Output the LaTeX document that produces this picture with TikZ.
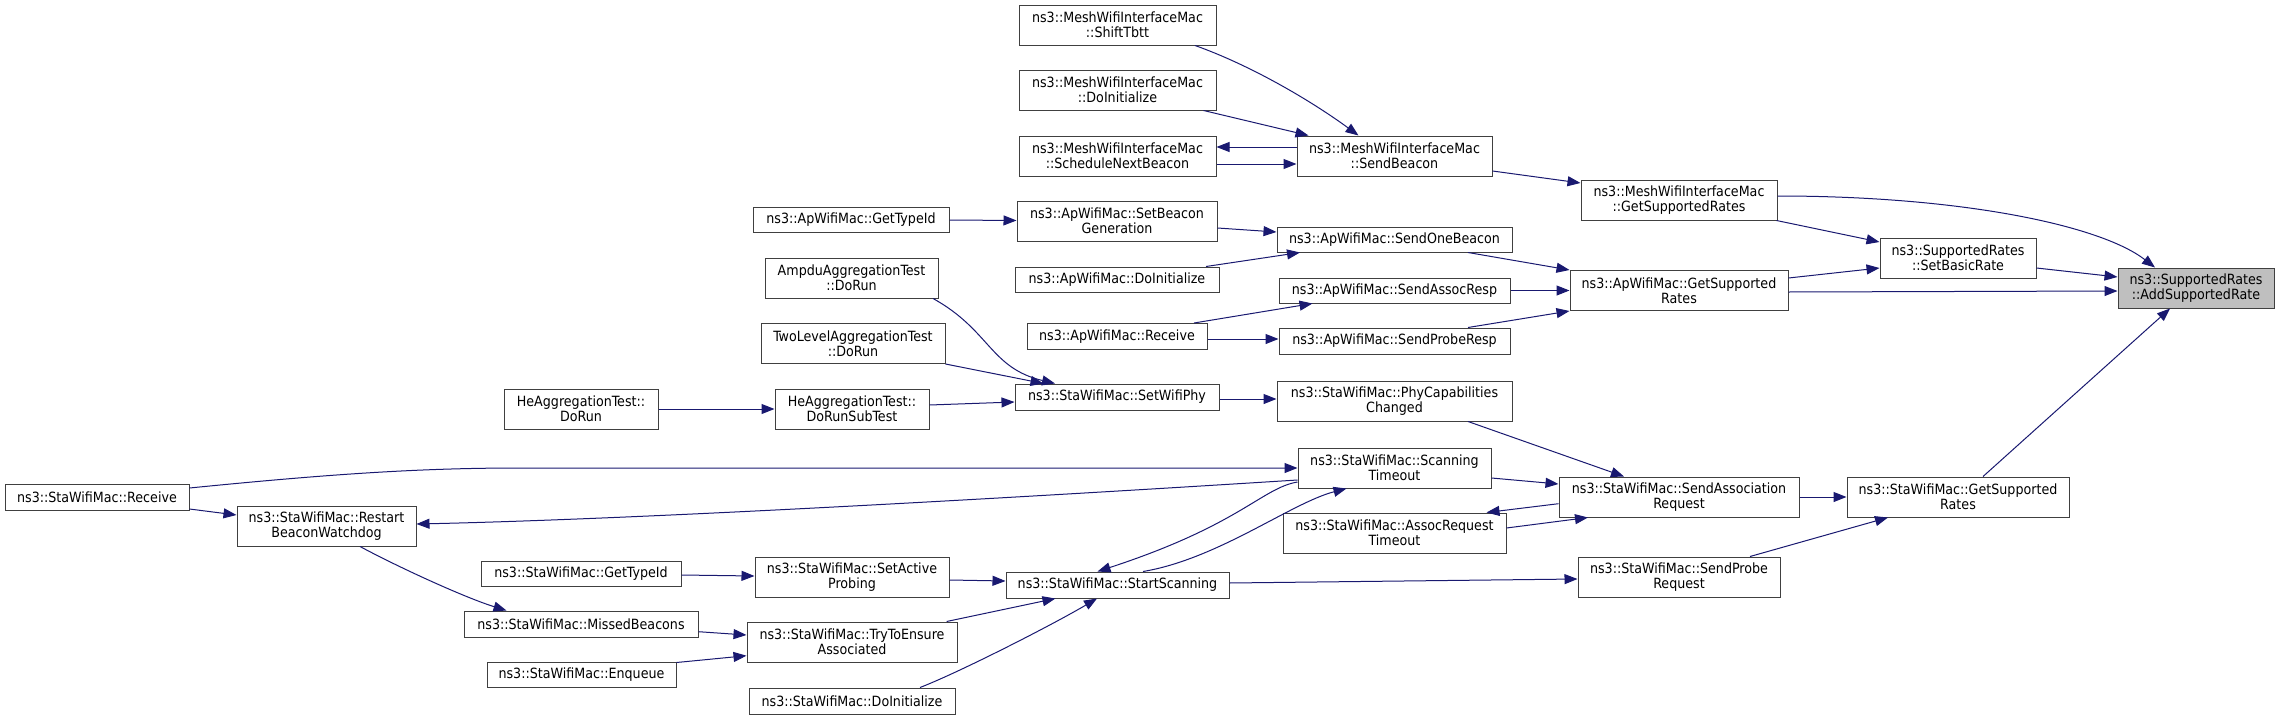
\documentclass[tikz,border=0pt]{standalone}
\usepackage{fontspec}
\setmainfont{DejaVu Sans Condensed}
\usetikzlibrary{arrows.meta}
\definecolor{edgeblue}{HTML}{191970}
\definecolor{boxline}{HTML}{404040}
\definecolor{hilite}{HTML}{BFBFBF}
\tikzset{
  box/.style={draw=boxline, line width=1pt, fill=white, rectangle, inner sep=0pt, align=center, font=\fontsize{14.1}{15}\selectfont},
  sz/.style 2 args={minimum width=#1pt, minimum height=#2pt},
  e/.style={draw=edgeblue, line width=1pt, -{Triangle[length=13pt,width=10pt]}, color=edgeblue}
}
\begin{document}
\begin{tikzpicture}[x=1pt,y=-1pt]
\useasboundingbox (0,0) rectangle (2283,720);
% rightmost
\node[box, sz={156}{40}, fill=hilite] (A) at (2196,288) {ns3::SupportedRates\\::AddSupportedRate};
\node[box, sz={196}{40}] (MGSR) at (1679,200) {ns3::MeshWifiInterfaceMac\\::GetSupportedRates};
\node[box, sz={156}{40}] (SBR) at (1958,258) {ns3::SupportedRates\\::SetBasicRate};
\node[box, sz={218}{40}] (AGSR) at (1679,290.5) {ns3::ApWifiMac::GetSupported\\Rates};
\node[box, sz={222}{40}] (SGSR) at (1958,497) {ns3::StaWifiMac::GetSupported\\Rates};
\node[box, sz={240}{40}] (SAR) at (1679,497) {ns3::StaWifiMac::SendAssociation\\Request};
\node[box, sz={202}{40}] (SPR) at (1679,577) {ns3::StaWifiMac::SendProbe\\Request};
% rank 1394
\node[box, sz={195}{40}] (SB) at (1394.5,156) {ns3::MeshWifiInterfaceMac\\::SendBeacon};
\node[box, sz={235}{25}] (SOB) at (1394.5,239.5) {ns3::ApWifiMac::SendOneBeacon};
\node[box, sz={231}{25}] (SAResp) at (1394.5,290.5) {ns3::ApWifiMac::SendAssocResp};
\node[box, sz={231}{26}] (SPResp) at (1394.5,341) {ns3::ApWifiMac::SendProbeResp};
\node[box, sz={235}{40}] (PCC) at (1394.5,401) {ns3::StaWifiMac::PhyCapabilities\\Changed};
\node[box, sz={193}{40}] (ST) at (1394.5,468) {ns3::StaWifiMac::Scanning\\Timeout};
\node[box, sz={223}{40}] (ART) at (1394.5,533) {ns3::StaWifiMac::AssocRequest\\Timeout};
% rank 1117
\node[box, sz={197}{40}] (STB) at (1117.5,25) {ns3::MeshWifiInterfaceMac\\::ShiftTbtt};
\node[box, sz={197}{40}] (MDI) at (1117.5,90) {ns3::MeshWifiInterfaceMac\\::DoInitialize};
\node[box, sz={197}{40}] (SNB) at (1117.5,156) {ns3::MeshWifiInterfaceMac\\::ScheduleNextBeacon};
\node[box, sz={200}{40}] (SBG) at (1117,221) {ns3::ApWifiMac::SetBeacon\\Generation};
\node[box, sz={204}{25}] (ADI) at (1117,279.5) {ns3::ApWifiMac::DoInitialize};
\node[box, sz={180}{26}] (AR) at (1117,336.5) {ns3::ApWifiMac::Receive};
\node[box, sz={204}{26}] (SWP) at (1117,397) {ns3::StaWifiMac::SetWifiPhy};
\node[box, sz={223}{26}] (SS) at (1117.5,585) {ns3::StaWifiMac::StartScanning};
% rank 852
\node[box, sz={196}{25}] (AGT) at (851,219.5) {ns3::ApWifiMac::GetTypeId};
\node[box, sz={173}{40}] (AMP) at (851.5,278) {AmpduAggregationTest\\::DoRun};
\node[box, sz={184}{40}] (TLA) at (853,343.5) {TwoLevelAggregationTest\\::DoRun};
\node[box, sz={154}{40}] (DRST) at (852,409) {HeAggregationTest::\\DoRunSubTest};
\node[box, sz={194}{40}] (SAP) at (852,577) {ns3::StaWifiMac::SetActive\\Probing};
\node[box, sz={210}{40}] (TTEA) at (852,642) {ns3::StaWifiMac::TryToEnsure\\Associated};
\node[box, sz={206}{26}] (SDI) at (852,701) {ns3::StaWifiMac::DoInitialize};
% rank 581
\node[box, sz={154}{40}] (HEDR) at (581,409) {HeAggregationTest::\\DoRun};
\node[box, sz={200}{25}] (SGT) at (581,573.5) {ns3::StaWifiMac::GetTypeId};
\node[box, sz={234}{26}] (MB) at (581,624) {ns3::StaWifiMac::MissedBeacons};
\node[box, sz={189}{25}] (ENQ) at (581.5,674.5) {ns3::StaWifiMac::Enqueue};
% rank 327, 97
\node[box, sz={179}{40}] (RBW) at (326.5,526) {ns3::StaWifiMac::Restart\\BeaconWatchdog};
\node[box, sz={184}{26}] (SR) at (97,497) {ns3::StaWifiMac::Receive};

% edges into AddSupportedRate
\draw[e] ([yshift=4pt]MGSR.east) .. controls (1960,196) and (2100,225) .. ([xshift=-41pt]A.north);
\draw[e] ([yshift=-10pt]SBR.east) -- ([yshift=11pt]A.west);
\draw[e] ([yshift=-1.5pt]AGSR.east) -- ([yshift=-3pt]A.west);
\draw[e] ([xshift=25pt]SGSR.north) -- ([xshift=-26pt]A.south);
% into SetBasicRate
\draw[e] ([xshift=-1pt]MGSR.south east) -- ([yshift=16pt]SBR.west);
\draw[e] ([yshift=12.5pt]AGSR.east) -- ([yshift=-10pt]SBR.west);
% into GetSupportedRates
\draw[e] ([yshift=-15pt]SB.east) -- ([yshift=17pt]MGSR.west);
\draw[e] ([xshift=73.5pt]SOB.south) -- (AGSR.north west);
\draw[e] (SAResp.east) -- (AGSR.west);
\draw[e] ([xshift=73.5pt]SPResp.north) -- (AGSR.south west);
% into SendBeacon
\draw[e] ([xshift=77.5pt]STB.south) .. controls (1250,65) and (1310,100) .. ([xshift=-36pt]SB.north);
\draw[e] ([xshift=86pt]MDI.south) -- ([xshift=-86pt]SB.north);
\draw[e] ([yshift=9pt]SB.west) -- ([yshift=9pt]SNB.east);
\draw[e] ([yshift=-8pt]SNB.east) -- ([yshift=-8pt]SB.west);
% into SendOneBeacon etc
\draw[e] ([yshift=-0.5pt]AGT.east) -- ([yshift=0.5pt]SBG.west);
\draw[e] ([yshift=-7pt]SBG.east) -- ([yshift=7.5pt]SOB.west);
\draw[e] ([xshift=89pt]ADI.north) -- ([xshift=-94.5pt]SOB.south);
\draw[e] ([xshift=77pt]AR.north) -- ([xshift=-82pt]SAResp.south);
\draw[e] ([yshift=-2.5pt]AR.east) -- ([yshift=2pt]SPResp.west);
% into SetWifiPhy
\draw[e] ([xshift=81.5pt]AMP.south) .. controls (990,330) and (990,368) .. ([xshift=-62pt]SWP.north);
\draw[e] (TLA.south east) -- ([xshift=-73.5pt]SWP.north);
\draw[e] (HEDR.east) -- (DRST.west);
\draw[e] ([yshift=4pt]DRST.east) -- ([yshift=-5pt]SWP.west);
\draw[e] ([yshift=-2pt]SWP.east) -- ([yshift=2pt]PCC.west);
% into SendAssociationRequest
\draw[e] ([xshift=73.5pt]PCC.south) -- ([xshift=-55pt]SAR.north);
\draw[e] ([yshift=-10pt]ST.east) -- ([yshift=13pt]SAR.west);
\draw[e] ([yshift=-6.7pt]SAR.west) -- ([xshift=92pt]ART.north);
\draw[e] ([yshift=5pt]ART.east) -- ([xshift=-91pt]SAR.south);
\draw[e] (SAR.east) -- (SGSR.west);
\draw[e] ([xshift=71pt]SPR.north) -- ([xshift=-70pt]SGSR.south);
\draw[e] ([yshift=2pt]SS.east) -- ([yshift=-2pt]SPR.west);
% ScanningTimeout related
\draw[e] ([yshift=9pt]SR.east) .. controls (330,474) and (420,468) .. (520,468) -- (ST.west);
\draw[e] ([yshift=-12pt]ST.west) .. controls (900,505) and (600,520) .. ([yshift=2pt]RBW.east);
\draw[e] ([yshift=-12pt]SR.east) -- ([yshift=11pt]RBW.west);
\draw[e] ([yshift=-14pt]ST.west) .. controls (1262,488) and (1240,525) .. ([xshift=-20pt]SS.north);
\draw[e] ([xshift=25.5pt]SS.north) .. controls (1218,559) and (1291,503) .. ([xshift=-48pt]ST.south);
% lower left
\draw[e] ([xshift=33.5pt]RBW.south) .. controls (400,568) and (466,598) .. ([xshift=-74.5pt]MB.north);
\draw[e] ([yshift=-1.5pt]SGT.east) -- ([yshift=1pt]SAP.west);
\draw[e] ([yshift=-3pt]SAP.east) -- ([yshift=4pt]SS.west);
\draw[e] ([yshift=-7.7pt]MB.east) -- ([yshift=7pt]TTEA.west);
\draw[e] ([yshift=-1pt]ENQ.north east) -- ([yshift=-13.7pt]TTEA.west);
\draw[e] ([xshift=94.6pt]TTEA.north) -- ([xshift=-62pt]SS.south);
\draw[e] ([xshift=68pt]SDI.north) .. controls (960,672) and (1052,625) .. ([xshift=-20.5pt]SS.south);
\end{tikzpicture}
\end{document}
